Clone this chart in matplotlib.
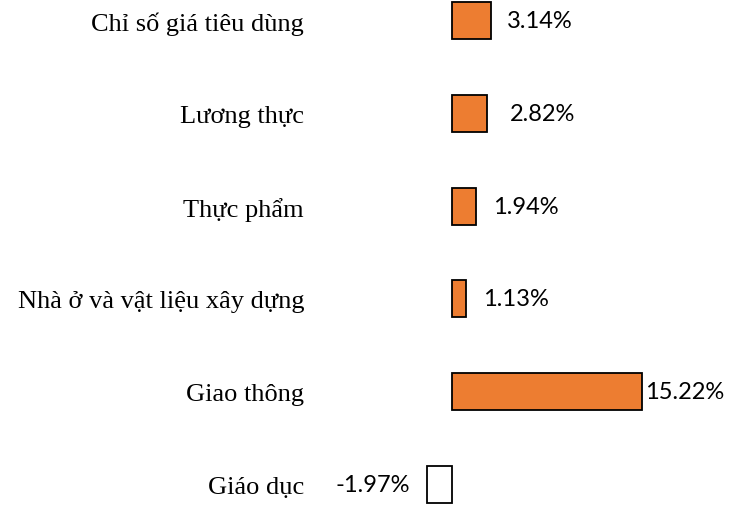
import matplotlib
matplotlib.use("Agg")
import matplotlib.pyplot as plt
from matplotlib.transforms import offset_copy

categories = ["Chỉ số giá tiêu dùng", "Lương thực", "Thực phẩm",
              "Nhà ở và vật liệu xây dựng", "Giao thông", "Giáo dục"]
values = [3.14, 2.82, 1.94, 1.13, 15.22, -1.97]
value_labels = ["3.14%", "2.82%", "1.94%", "1.13%", "15.22%", "-1.97%"]

W, H = 741, 506
fig = plt.figure(figsize=(W / 100, H / 100), dpi=100)
ax = fig.add_axes([340 / W, 0, 400 / W, 1])
ppu = 190 / 15.22
x0 = 452
ax.set_xlim(-(x0 - 340) / ppu, (740 - x0) / ppu)
spacing = 92.8
top = 21.5
ax.set_ylim((H - top) / spacing, -top / spacing)

ypos = list(range(len(categories)))
colors = ["#ED7D31" if v >= 0 else "white" for v in values]
ax.barh(ypos, values, height=0.40, color=colors, edgecolor="black", linewidth=1.3)

ax.set_yticks(ypos)
ax.set_yticklabels(categories, fontsize=19, family="Liberation Serif")
ax.tick_params(axis="y", length=0, pad=(340 - 304) * 0.72)
ax.set_xticks([])
for s in ax.spines.values():
    s.set_visible(False)

label_pad_px = [16, 23, 17, 17, 3, 17]
for y, v, lab, p in zip(ypos, values, value_labels, label_pad_px):
    if v >= 0:
        tr = offset_copy(ax.transData, fig=fig, x=p * 0.72, y=0, units="points")
        ax.text(v, y, lab, transform=tr, ha="left", va="center",
                fontsize=17, family="Lato")
    else:
        tr = offset_copy(ax.transData, fig=fig, x=-p * 0.72, y=0, units="points")
        ax.text(v, y, lab, transform=tr, ha="right", va="center",
                fontsize=17, family="Lato")

fig.savefig("out.png", dpi=100)
